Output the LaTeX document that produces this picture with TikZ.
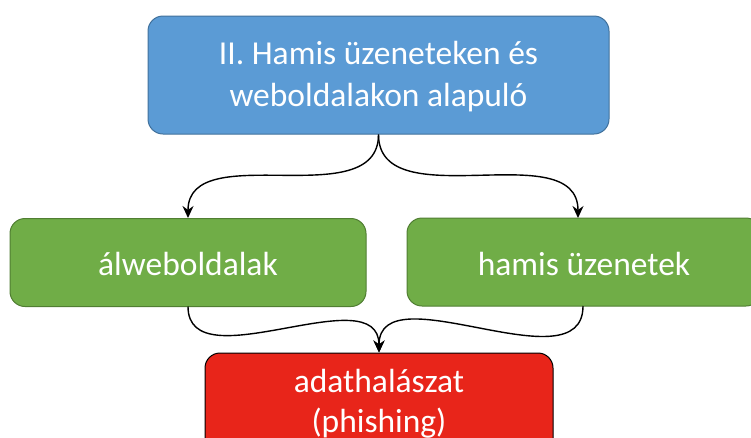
\documentclass[tikz,border=0pt]{standalone}
\usepackage{fontspec}
\setmainfont{Carlito}
\usetikzlibrary{arrows.meta}
\definecolor{topfill}{HTML}{5B9BD5}
\definecolor{topline}{HTML}{41719C}
\definecolor{gfill}{HTML}{70AD47}
\definecolor{gline}{HTML}{507E32}
\definecolor{rfill}{HTML}{E8251A}
\tikzset{
  box/.style={rounded corners=15pt, text=white, align=center, line width=1pt, inner sep=0pt},
  bluebox/.style={box, fill=topfill, draw=topline},
  greenbox/.style={box, fill=gfill, draw=gline},
  redbox/.style={box, fill=rfill, draw=black},
  wtext/.style={text=white, align=center, font=\fontsize{33.5}{40}\selectfont},
  conn/.style={line width=1.4pt, -{Stealth[length=12pt,width=11pt]}, out=-90, in=90}
}
\begin{document}
\begin{tikzpicture}[x=1pt,y=-1pt]
\useasboundingbox (0,0) rectangle (751,437);
\node[bluebox, minimum width=461pt, minimum height=118pt] (top) at (378.5,75) {};
\node[wtext, font=\fontsize{33.5}{42}\selectfont] (ttext) at (378.5,77) {II. Hamis üzeneteken és\\weboldalakon alapuló};
\node[greenbox, minimum width=356pt, minimum height=88pt] (left) at (188,262.5) {};
\node[wtext] (ltext) at (188,264) {álweboldalak};
\node[greenbox, minimum width=354pt, minimum height=88pt] (right) at (584,262) {};
\node[wtext] (rtext) at (584,264) {hamis üzenetek};
\node[redbox, minimum width=348pt, minimum height=104pt] (bot) at (379,405) {};
\node[wtext] (btext) at (379,404) {adathalászat\\(phishing)};
\coordinate (lt) at (188,218);
\coordinate (rt) at (578,218);
\coordinate (lb) at (188,306.5);
\coordinate (rb) at (583,306);
\draw[conn] (top.south) to (lt);
\draw[conn] (top.south) to (rt);
\draw[conn] (lb) to (bot.north);
\draw[conn] (rb) to (bot.north);
\end{tikzpicture}
\end{document}
